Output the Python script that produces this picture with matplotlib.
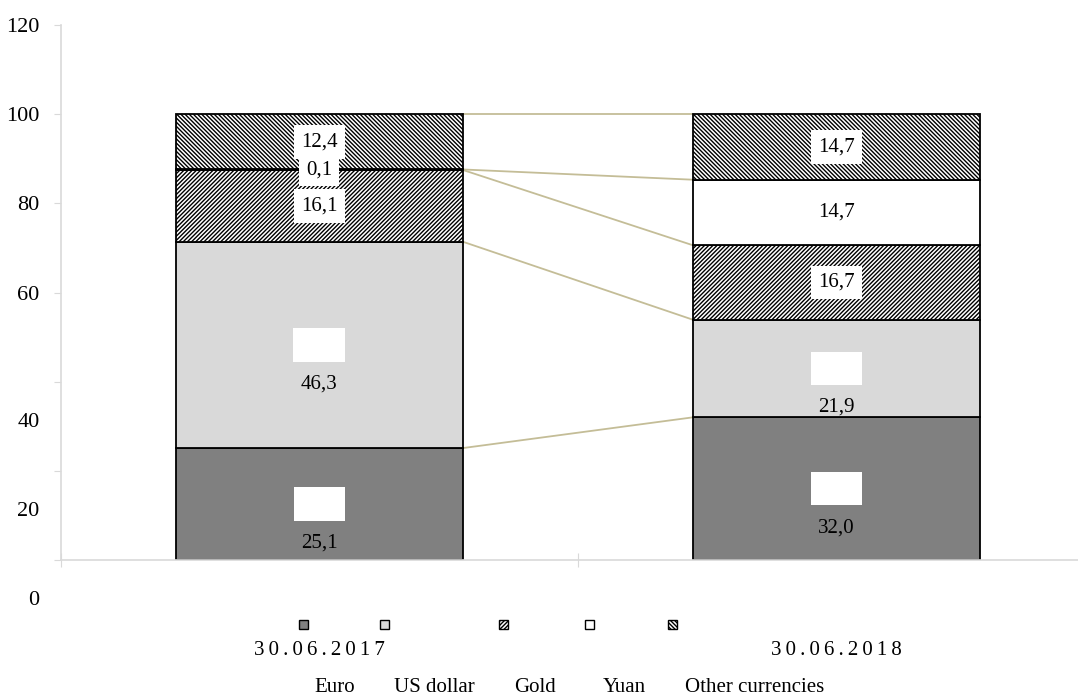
import matplotlib
matplotlib.use('Agg')
import matplotlib.pyplot as plt
from matplotlib.patches import Rectangle
from matplotlib.transforms import ScaledTranslation

# data (shares, %)
dates = ['30.06.2017', '30.06.2018']
series_names = ['Euro', 'US dollar', 'Gold', 'Yuan', 'Other currencies']
euro = [25.1, 32.0]
us_dollar = [46.3, 21.9]
gold = [16.1, 16.7]
yuan = [0.1, 14.7]
other = [12.4, 14.7]
y_ticks = [0, 20, 40, 60, 80, 100, 120]

plt.rcParams['font.family'] = ['Liberation Serif', 'DejaVu Serif']
plt.rcParams['hatch.linewidth'] = 1.0
plt.rcParams['hatch.color'] = '#303030'

fig = plt.figure(figsize=(10.78, 6.98), dpi=100)
ax = fig.add_axes([60.5 / 1078, 138 / 698, 1034.5 / 1078, 535 / 698])

series = [euro, us_dollar, gold, yuan, other]
styles = [
    dict(color='#808080', hatch=None),
    dict(color='#d9d9d9', hatch=None),
    dict(color='white', hatch='////////'),
    dict(color='white', hatch=None),
    dict(color='white', hatch='\\' * 8),
]
x = [0, 1]
width = 0.555
bottoms = [0.0, 0.0]
tops = []
for vals, st in zip(series, styles):
    ax.bar(x, vals, width, bottom=bottoms, color=st['color'], hatch=st['hatch'],
           edgecolor='black', linewidth=1.3, zorder=2)
    bottoms = [b + v for b, v in zip(bottoms, vals)]
    tops.append(list(bottoms))

# series lines between the bars
for t in tops:
    ax.plot([x[0] + width / 2, x[1] - width / 2], t, color='#c4bd97', lw=1.3, zorder=1)


def fmt(v):
    return f'{v:.1f}'.replace('.', ',')


box = dict(boxstyle='square,pad=0.35', facecolor='white', edgecolor='none')
bottoms = [0.0, 0.0]
for k, vals in enumerate(series):
    for i, v in enumerate(vals):
        c = bottoms[i] + v / 2
        if k < 2:
            # white box stays in the segment, the number slipped below it
            ax.text(x[i], c, fmt(v), color='white', fontsize=15, ha='center',
                    va='center', bbox=box, zorder=4)
            ax.annotate(fmt(v), xy=(x[i], c), xytext=(0, -28), textcoords='offset points',
                        fontsize=15, ha='center', va='center', zorder=5)
        else:
            ax.text(x[i], c, fmt(v), fontsize=15, ha='center', va='center',
                    bbox=box, zorder=4)
    bottoms = [b + v for b, v in zip(bottoms, vals)]

ax.set_xlim(-0.5, 1.5)
ax.set_ylim(0, 120)
ax.set_yticks(y_ticks)
ax.set_yticklabels([str(t) for t in y_ticks], fontsize=16)
ax.set_xticks([-0.5, 0.5, 1.5])
ax.set_xticklabels([])
ax.set_xticks(x, minor=True)
ax.set_xticklabels(['\u2009'.join(d) for d in dates], minor=True, fontsize=15)
ax.tick_params(axis='x', which='major', direction='inout', length=10, color='#d9d9d9')
ax.tick_params(axis='x', which='minor', length=0, pad=58)
ax.tick_params(axis='y', length=5, color='#d9d9d9', pad=10)
for s in ['top', 'right']:
    ax.spines[s].set_visible(False)
for s in ['left', 'bottom']:
    ax.spines[s].set_color('#d9d9d9')
    ax.spines[s].set_linewidth(1.2)

# lower tick labels slipped down in the original
shift = ScaledTranslation(0, -0.38, fig.dpi_scale_trans)
for t, lab in zip(y_ticks, ax.get_yticklabels()):
    if t <= 40:
        lab.set_transform(lab.get_transform() + shift)

# legend: markers in one row, names in another
marker_x = [303, 384, 503, 589, 672]
label_x = [335, 434, 535, 624, 755]
for mx, lx, name, st in zip(marker_x, label_x, series_names, styles):
    fig.patches.append(Rectangle((mx / 1078 - 4.5 / 1078, (698 - 629) / 698), 9 / 1078, 9 / 698,
                                 transform=fig.transFigure, facecolor=st['color'],
                                 hatch=st['hatch'], edgecolor='black', linewidth=1.0))
    fig.text(lx / 1078, (698 - 688) / 698, name, fontsize=15, ha='center', va='center')

fig.savefig('out.png', dpi=100)
